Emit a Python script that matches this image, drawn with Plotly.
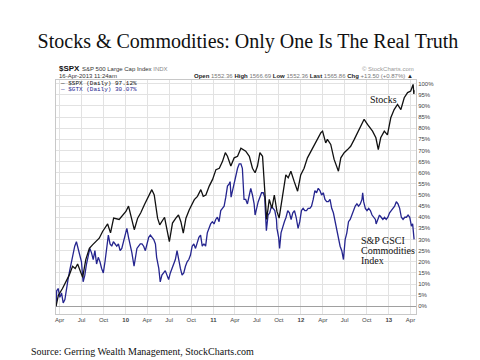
import plotly.graph_objects as go

# ---------------- data (percent change since 18-Mar-2009) ----------------
spx_dates = [
    "2009-03-17", "2009-03-27", "2009-04-13", "2009-04-27", "2009-05-11", "2009-05-25",
    "2009-06-05", "2009-06-15", "2009-06-25", "2009-07-06", "2009-07-19", "2009-08-03",
    "2009-08-16", "2009-08-30", "2009-09-13", "2009-09-27", "2009-10-11", "2009-10-18",
    "2009-10-30", "2009-11-12", "2009-12-05", "2009-12-19", "2010-01-02", "2010-01-13",
    "2010-01-23", "2010-02-06", "2010-02-20", "2010-03-05", "2010-03-20", "2010-04-02",
    "2010-04-20", "2010-04-30", "2010-05-14", "2010-05-23", "2010-06-04", "2010-06-12",
    "2010-07-02", "2010-07-15", "2010-07-29", "2010-08-09", "2010-08-19", "2010-08-29",
    "2010-09-09", "2010-09-23", "2010-10-14", "2010-10-27", "2010-11-10", "2010-11-20",
    "2010-12-01", "2010-12-15", "2010-12-29", "2011-01-12", "2011-01-26", "2011-02-08",
    "2011-02-20", "2011-03-01", "2011-03-15", "2011-03-29", "2011-04-12", "2011-04-26",
    "2011-05-16", "2011-05-31", "2011-06-13", "2011-06-24", "2011-07-04", "2011-07-14",
    "2011-07-25", "2011-08-04", "2011-08-11", "2011-08-22", "2011-09-02", "2011-09-12",
    "2011-09-23", "2011-10-02", "2011-10-16", "2011-10-30", "2011-11-09", "2011-11-20",
    "2011-12-04", "2011-12-18", "2011-12-31", "2012-01-14", "2012-01-28", "2012-02-11",
    "2012-02-25", "2012-03-10", "2012-03-24", "2012-03-31", "2012-04-07", "2012-04-13",
    "2012-04-20", "2012-05-04", "2012-05-18", "2012-06-05", "2012-06-15", "2012-06-29",
    "2012-07-13", "2012-07-26", "2012-08-10", "2012-08-23", "2012-09-06", "2012-09-20",
    "2012-10-04", "2012-10-25", "2012-11-08", "2012-11-18", "2012-11-28", "2012-12-13",
    "2012-12-26", "2013-01-09", "2013-01-23", "2013-02-06", "2013-02-20", "2013-03-06",
    "2013-03-20", "2013-04-02", "2013-04-12", "2013-04-15", "2013-04-16",
]
spx_pct = [
    0, 5, 8, 11, 14, 18,
    17, 19, 16, 13, 21, 26,
    27.6, 29, 30.6, 33.6, 36, 37,
    33, 39.6, 39, 41, 42.6, 45,
    41, 34.4, 39.6, 42, 45.6, 48.6,
    52.4, 50, 39.6, 36.6, 38.9, 40,
    29, 37.4, 39.6, 41, 38, 32.9,
    39.6, 43.4, 47.9, 49.4, 52.4, 49.4,
    50, 54, 57, 61.4, 62, 65,
    69, 67.4, 63, 66.7, 67.4, 71,
    69.7, 67.4, 62, 60, 63, 69,
    67.4, 51.7, 39, 48, 44, 50,
    42.6, 39.6, 48.6, 59, 57.7, 60.7,
    56, 51.7, 59, 62, 66.7, 69.7,
    72.7, 75.7, 78, 78.7, 75.7, 73.4,
    75, 72.7, 66, 60.7, 66.7, 69,
    70.4, 71.9, 75, 78, 81, 84,
    81.7, 78.7, 75.7, 70.4, 75.7, 78.7,
    77, 84.7, 88.4, 90.7, 88.4, 93.7,
    96, 96.7, 99.7, 95.4, 97.12,
]

gtx_dates = [
    "2009-03-17", "2009-03-20", "2009-03-26", "2009-04-02", "2009-04-09", "2009-04-16",
    "2009-04-23", "2009-04-30", "2009-05-06", "2009-05-13", "2009-05-20", "2009-05-27",
    "2009-06-03", "2009-06-10", "2009-06-17", "2009-06-24", "2009-07-01", "2009-07-08",
    "2009-07-15", "2009-07-22", "2009-07-29", "2009-08-05", "2009-08-12", "2009-08-19",
    "2009-08-26", "2009-09-02", "2009-09-09", "2009-09-16", "2009-09-23", "2009-09-30",
    "2009-10-07", "2009-10-14", "2009-10-21", "2009-10-28", "2009-11-04", "2009-11-11",
    "2009-11-18", "2009-11-25", "2009-12-02", "2009-12-09", "2009-12-16", "2009-12-23",
    "2009-12-30", "2010-01-06", "2010-01-13", "2010-01-20", "2010-01-27", "2010-02-05",
    "2010-02-10", "2010-02-17", "2010-02-24", "2010-03-03", "2010-03-10", "2010-03-17",
    "2010-03-24", "2010-03-31", "2010-04-07", "2010-04-14", "2010-04-21", "2010-04-28",
    "2010-05-05", "2010-05-10", "2010-05-19", "2010-05-25", "2010-06-01", "2010-06-08",
    "2010-06-15", "2010-06-22", "2010-06-29", "2010-07-06", "2010-07-13", "2010-07-20",
    "2010-07-27", "2010-08-03", "2010-08-10", "2010-08-17", "2010-08-24", "2010-08-31",
    "2010-09-07", "2010-09-14", "2010-09-21", "2010-09-28", "2010-10-05", "2010-10-12",
    "2010-10-19", "2010-10-26", "2010-11-02", "2010-11-09", "2010-11-16", "2010-11-23",
    "2010-11-30", "2010-12-07", "2010-12-14", "2010-12-21", "2010-12-28", "2011-01-04",
    "2011-01-11", "2011-01-18", "2011-01-25", "2011-02-01", "2011-02-08", "2011-02-15",
    "2011-02-22", "2011-03-01", "2011-03-08", "2011-03-12", "2011-03-16", "2011-03-22",
    "2011-03-29", "2011-04-05", "2011-04-12", "2011-04-19", "2011-04-26", "2011-05-02",
    "2011-05-05", "2011-05-09", "2011-05-16", "2011-05-23", "2011-05-31", "2011-06-06",
    "2011-06-13", "2011-06-20", "2011-06-24", "2011-06-30", "2011-07-07", "2011-07-14",
    "2011-07-21", "2011-07-28", "2011-08-03", "2011-08-08", "2011-08-10", "2011-08-17",
    "2011-08-24", "2011-08-31", "2011-09-07", "2011-09-14", "2011-09-21", "2011-09-23",
    "2011-09-30", "2011-10-04", "2011-10-10", "2011-10-17", "2011-10-24", "2011-10-31",
    "2011-11-07", "2011-11-14", "2011-11-21", "2011-11-28", "2011-12-05", "2011-12-12",
    "2011-12-16", "2011-12-20", "2011-12-27", "2012-01-03", "2012-01-10", "2012-01-17",
    "2012-01-24", "2012-01-31", "2012-02-07", "2012-02-14", "2012-02-21", "2012-02-28",
    "2012-03-06", "2012-03-13", "2012-03-20", "2012-03-27", "2012-04-03", "2012-04-10",
    "2012-04-17", "2012-04-24", "2012-05-01", "2012-05-08", "2012-05-15", "2012-05-22",
    "2012-05-29", "2012-06-05", "2012-06-12", "2012-06-19", "2012-06-26", "2012-07-03",
    "2012-07-10", "2012-07-17", "2012-07-24", "2012-07-31", "2012-08-07", "2012-08-14",
    "2012-08-21", "2012-08-28", "2012-09-04", "2012-09-11", "2012-09-14", "2012-09-18",
    "2012-09-25", "2012-10-02", "2012-10-09", "2012-10-16", "2012-10-23", "2012-10-30",
    "2012-11-06", "2012-11-09", "2012-11-16", "2012-11-23", "2012-11-30", "2012-12-07",
    "2012-12-14", "2012-12-21", "2012-12-28", "2013-01-04", "2013-01-11", "2013-01-18",
    "2013-01-25", "2013-02-01", "2013-02-08", "2013-02-15", "2013-02-22", "2013-03-01",
    "2013-03-08", "2013-03-15", "2013-03-22", "2013-03-29", "2013-04-05", "2013-04-10",
    "2013-04-12", "2013-04-15", "2013-04-16",
]
gtx_pct = [
    0, 7, 8, 4, 6, 1.5,
    3, 9, 12, 16, 20, 24,
    27, 29, 26, 24, 20, 11,
    14, 19, 22, 26, 24, 21,
    25, 19, 22, 20, 17, 15,
    20, 27, 32, 28, 27, 29,
    28, 27, 28, 25, 26, 29,
    32, 35, 31, 28, 24, 18,
    21, 26, 27, 28, 28, 27,
    25, 28, 31, 32, 31, 30,
    28, 22, 17, 11, 14, 15,
    16, 14, 12, 15, 17, 19,
    21, 25, 20, 17, 14, 15,
    18, 20, 21, 23, 27, 28,
    26, 29, 31, 32, 27, 28,
    27, 33, 35, 37, 38, 37,
    39, 40, 38, 43, 44, 45,
    49, 54, 55, 56, 49, 52,
    55, 59, 62, 64, 64, 62,
    55, 48, 48, 46, 50, 53,
    50, 46, 41, 44, 47, 49,
    51, 51, 49, 38, 34, 41,
    42, 45, 44, 43, 39, 35,
    31, 26, 33, 36, 38, 40,
    43, 42, 39, 42, 43, 40,
    37, 35, 38, 43, 44, 43,
    43, 44, 44, 45, 48, 52,
    51, 53, 52, 50, 51, 48,
    47, 47, 48, 44, 42, 38,
    35, 30, 27, 25, 21, 30,
    33, 38, 39, 41, 43, 45,
    46, 45, 46, 48, 51, 47,
    44, 43, 44, 43, 41, 40,
    39, 37, 39, 41, 40, 39,
    40, 39, 40, 42, 43, 44,
    45, 47, 46, 44, 40, 39,
    40, 40, 41, 40, 36, 37,
    35, 30.5, 30.07,
]

x_tick_dates = [
    "2009-04-01", "2009-07-01", "2009-10-01", "2010-01-01",
    "2010-04-01", "2010-07-01", "2010-10-01", "2011-01-01",
    "2011-04-01", "2011-07-01", "2011-10-01", "2012-01-01",
    "2012-04-01", "2012-07-01", "2012-10-01", "2013-01-01",
    "2013-04-01",
]
x_tick_labels = [
    "Apr", "Jul", "Oct", "<b>10</b>", "Apr", "Jul", "Oct", "<b>11</b>",
    "Apr", "Jul", "Oct", "<b>12</b>", "Apr", "Jul", "Oct", "<b>13</b>", "Apr",
]
y_tick_values = list(range(0, 101, 5))
y_tick_labels = [f"{v}%" for v in y_tick_values]

SPX_COLOR = "#111111"
GTX_COLOR = "#25258f"

fig = go.Figure()
fig.add_trace(go.Scatter(x=gtx_dates, y=gtx_pct, mode="lines",
                         line=dict(color=GTX_COLOR, width=1.3), name="$GTX"))
fig.add_trace(go.Scatter(x=spx_dates, y=spx_pct, mode="lines",
                         line=dict(color=SPX_COLOR, width=1.3), name="$SPX"))

sans = "Liberation Sans"
serif = "Liberation Serif"
mono = "Liberation Mono"

fig.update_layout(
    width=480, height=360,
    margin=dict(l=48, r=72, t=72, b=54),
    paper_bgcolor="white", plot_bgcolor="white",
    showlegend=False,
    title=dict(text="Stocks &amp; Commodities: Only One Is The Real Truth",
               font=dict(family=serif, size=20, color="#111111"),
               x=0.5, xref="container", xanchor="center",
               y=1 - 33 / 360, yref="container", yanchor="middle"),
    xaxis=dict(range=["2009-03-17", "2013-04-24"], type="date",
               tickvals=x_tick_dates, ticktext=x_tick_labels,
               tickfont=dict(family=sans, size=6, color="#444444"),
               showgrid=True, gridcolor="#e2e2e2", gridwidth=1,
               showline=True, mirror=True, linecolor="#c8c8c8", linewidth=1,
               ticks="", zeroline=False),
    yaxis=dict(range=[-3.46, 101.66], side="right",
               tickvals=y_tick_values, ticktext=y_tick_labels,
               tickfont=dict(family=sans, size=6, color="#444444"),
               showgrid=True, gridcolor="#e2e2e2", gridwidth=1,
               zeroline=True, zerolinecolor="#a0a0a0", zerolinewidth=1,
               showline=True, mirror=True, linecolor="#c8c8c8", linewidth=1,
               ticks="", ticklabelstandoff=0),
)

def px_x(px):
    return (px - 48) / 360.0

def px_y(py):
    return (306 - py) / 234.0

ann = []
# header
ann.append(dict(text="<b>$SPX</b>", x=px_x(49), y=px_y(61), xanchor="left", yanchor="middle",
                font=dict(family=sans, size=8, color="#111111")))
ann.append(dict(text="S&amp;P 500 Large Cap Index <span style='color:#888888'>INDX</span>",
                x=px_x(72), y=px_y(61), xanchor="left", yanchor="middle",
                font=dict(family=sans, size=6, color="#333333")))
ann.append(dict(text="16-Apr-2013 11:24am", x=px_x(49), y=px_y(67.5), xanchor="left", yanchor="middle",
                font=dict(family=sans, size=6, color="#333333")))
ann.append(dict(text="<b>Open</b> <span style='color:#777777'>1552.36</span> "
                     "<b>High</b> <span style='color:#777777'>1566.69</span> "
                     "<b>Low</b> <span style='color:#777777'>1552.36</span> "
                     "<b>Last</b> <span style='color:#777777'>1565.86</span> "
                     "<b>Chg</b> <span style='color:#777777'>+13.50 (+0.87%)</span> ▲",
                x=px_x(407), y=px_y(67.5), xanchor="right", yanchor="middle",
                font=dict(family=sans, size=6, color="#222222")))
ann.append(dict(text="© StockCharts.com", x=px_x(408), y=px_y(61), xanchor="right", yanchor="middle",
                font=dict(family=sans, size=6, color="#999999")))
# legend
ann.append(dict(text=f"— $SPX (Daily) {spx_pct[-1]:.2f}%", x=px_x(50.5), y=px_y(75.7),
                xanchor="left", yanchor="middle", borderpad=0,
                font=dict(family=mono, size=6, color=SPX_COLOR)))
ann.append(dict(text=f"— $GTX (Daily) {gtx_pct[-1]:.2f}%", x=px_x(50.5), y=px_y(81.5),
                xanchor="left", yanchor="middle", borderpad=0,
                font=dict(family=mono, size=6, color=GTX_COLOR)))
# series notes
ann.append(dict(text="Stocks", x=px_x(359.5), y=px_y(91.5), xanchor="left", yanchor="middle",
                font=dict(family=serif, size=10, color="#111111")))
for i, line in enumerate(["S&amp;P GSCI", "Commodities", "Index"]):
    ann.append(dict(text=line, x=px_x(351.5), y=px_y(232.7 + 10 * i), xanchor="left", yanchor="middle",
                    borderpad=0, font=dict(family=serif, size=10, color="#111111")))
# source
ann.append(dict(text="Source: Gerring Wealth Management, StockCharts.com", x=px_x(20.5), y=px_y(343.5),
                xanchor="left", yanchor="middle",
                font=dict(family=serif, size=10, color="#111111")))

for a in ann:
    a.update(xref="paper", yref="paper", showarrow=False)
fig.update_layout(annotations=ann)

fig.write_html("out.html")
